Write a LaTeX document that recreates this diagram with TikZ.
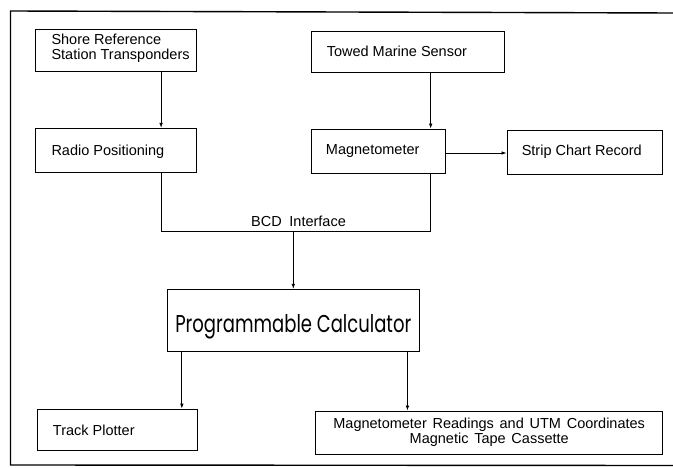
\documentclass[tikz,border=0pt]{standalone}
\usepackage{fontspec}
\setmainfont{Liberation Sans}
\newfontfamily\calcfont{Poppins}
\usetikzlibrary{arrows.meta,calc}
\newcommand{\lab}{\fontsize{14.5}{15}\selectfont}
\tikzset{
  blk/.style={draw, line width=0.9pt, inner sep=0pt},
  txt/.style={font=\lab, inner sep=0pt, anchor=west, align=left},
  ctxt/.style={font=\lab, inner sep=0pt, align=center},
  arr/.style={line width=0.8pt, -{Latex[length=5pt,width=3.6pt]}},
  wire/.style={line width=0.8pt},
  frame/.style={line width=1.4pt}
}
\begin{document}
\begin{tikzpicture}[x=1pt,y=-1pt]
\useasboundingbox (0,0) rectangle (673,468);
% frame
\coordinate (ftr) at (673,13);
\coordinate (ftl) at (10.5,11);
\coordinate (fbl) at (10.5,465);
\coordinate (fbr) at (673,465.5);
\draw[frame] (ftr) -- (ftl) -- (fbl) -- (fbr);

% boxes
\node[blk, minimum width=160.3pt, minimum height=41.7pt] (shore) at (115.9,50.2) {};
\node[blk, minimum width=193pt, minimum height=41pt] (towed) at (407.5,51.5) {};
\node[blk, minimum width=160.3pt, minimum height=43.7pt] (radio) at (115.9,150.2) {};
\node[blk, minimum width=134pt, minimum height=44pt] (mag) at (378.7,151) {};
\node[blk, minimum width=155pt, minimum height=44pt] (strip) at (584.5,152) {};
\node[blk, minimum width=252pt, minimum height=62.4pt] (calc) at (293.3,320.5) {};
\node[blk, minimum width=159.6pt, minimum height=41.7pt] (track) at (117.5,429.9) {};
\node[blk, minimum width=347pt, minimum height=43pt] (tape) at (489.2,432.5) {};

% texts
\node[txt] (shoretxt) at ([xshift=16pt,yshift=1.5pt]shore.west) {Shore Reference\\Station Transponders};
\node[txt] (towedtxt) at ([xshift=16pt]towed.west) {Towed Marine Sensor};
\node[txt] (radiotxt) at ([xshift=16pt,yshift=-1.5pt]radio.west) {Radio Positioning};
\node[txt] (magtxt) at ([xshift=14.5pt]mag.west) {Magnetometer};
\node[txt] (striptxt) at ([xshift=15pt]strip.west) {Strip Chart Record};
\node[txt] (tracktxt) at ([xshift=15.5pt]track.west) {Track Plotter};
\node[ctxt] (tapetxt) at ([yshift=0.5pt]tape.center) {Magnetometer\hspace{0.12em} Readings\hspace{0.12em} and\hspace{0.12em} UTM\hspace{0.12em} Coordinates\\Magnetic\hspace{0.12em} Tape\hspace{0.12em} Cassette};
\node[font=\calcfont, inner sep=0pt, anchor=base] (calctxt) at (293.3,332) {\resizebox{236pt}{18pt}{Programmable Calculator}};

\coordinate (bus) at (293.3,231.7);
\node[font=\lab, inner sep=0pt] (bcd) at (298.5,221.7) {BCD\hspace{0.25em} Interface};

\draw[arr] ([xshift=45.2pt]shore.south) -- ([xshift=45.2pt]radio.north);
\draw[arr] ([xshift=23.2pt]towed.south) -- ([xshift=52pt]mag.north);
\draw[arr] ([yshift=-2pt]mag.east) -- ([yshift=-2pt]mag.east -| strip.west);
\draw[wire] ([xshift=45.2pt]radio.south) |- (bus) -| ([xshift=52pt]mag.south);
\draw[arr] (bus) -- (calc.north);
\draw[arr] ([xshift=15pt]calc.south west) -- ([xshift=15pt]calc.south west |- track.north);
\draw[arr] ([xshift=-12.3pt]calc.south east) -- ([xshift=-12.3pt]calc.south east |- tape.north);
\end{tikzpicture}
\end{document}
